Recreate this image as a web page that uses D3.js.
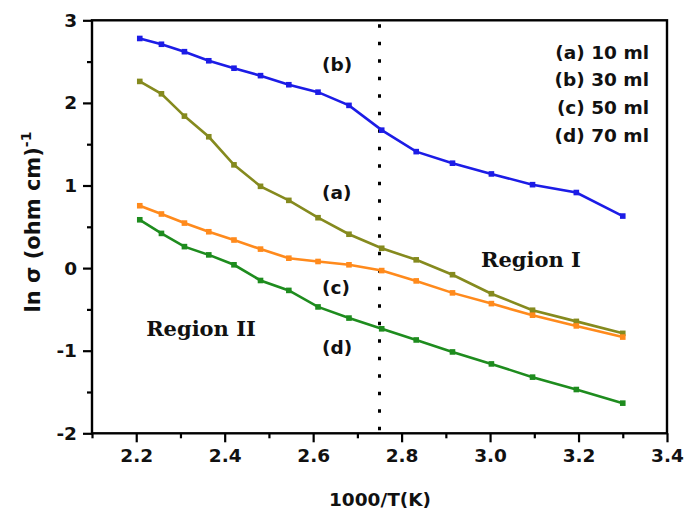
<!DOCTYPE html>
<html>
<head>
<meta charset="utf-8">
<script src="https://cdn.jsdelivr.net/npm/d3@7"></script>
<style>
  body { margin: 0; background: #fff; }
  text { font-family: "DejaVu Sans", sans-serif; font-weight: bold; }
</style>
</head>
<body>
<script>
// 1000/T values (T = 453 K ... 303 K)
const invT = [2.208, 2.257, 2.309, 2.364, 2.421, 2.481, 2.545, 2.611, 2.681, 2.755, 2.833, 2.915, 3.003, 3.096, 3.195, 3.300];

const seriesA = [2.26, 2.11, 1.84, 1.59, 1.25, 0.99, 0.82, 0.61, 0.41, 0.24, 0.10, -0.08, -0.31, -0.51, -0.645, -0.79];
const seriesB = [2.78, 2.71, 2.62, 2.51, 2.42, 2.33, 2.22, 2.13, 1.97, 1.67, 1.41, 1.27, 1.14, 1.01, 0.915, 0.63];
const seriesC = [0.755, 0.655, 0.545, 0.44, 0.34, 0.23, 0.12, 0.08, 0.04, -0.03, -0.155, -0.30, -0.43, -0.57, -0.70, -0.835];
const seriesD = [0.585, 0.42, 0.26, 0.16, 0.04, -0.15, -0.27, -0.47, -0.605, -0.735, -0.87, -1.015, -1.16, -1.32, -1.47, -1.635];

const seriesNames = ["(a)", "(b)", "(c)", "(d)"];
const seriesColors = ["#858a1e", "#1c1ce6", "#ff8a1c", "#1e8c1e"];
const legendLines = ["(a) 10 ml", "(b) 30 ml", "(c) 50 ml", "(d) 70 ml"];

const xTicks = [2.2, 2.4, 2.6, 2.8, 3.0, 3.2, 3.4];
const yTicks = [-2, -1, 0, 1, 2, 3];
const boundaryX = 2.75;

const w = 687, h = 514;
const mLeft = 92, mRight = 667, mTop = 20.3, mBottom = 433.3;

const svg = d3.select("body").append("svg")
  .attr("width", w)
  .attr("height", h);

const x = d3.scaleLinear().domain([2.1, 3.4]).range([mLeft, mRight]);
const y = d3.scaleLinear().domain([-2, 3]).range([mBottom, mTop]);

// minor ticks
svg.append("g")
  .attr("transform", `translate(0,${mBottom})`)
  .call(d3.axisBottom(x).tickValues(d3.range(2.1, 3.35, 0.2)).tickSize(5).tickFormat(""))
  .call(g => g.select(".domain").remove())
  .selectAll("line").attr("stroke-width", 2.2);
svg.append("g")
  .attr("transform", `translate(${mLeft},0)`)
  .call(d3.axisLeft(y).tickValues([-1.5, -0.5, 0.5, 1.5, 2.5]).tickSize(5).tickFormat(""))
  .call(g => g.select(".domain").remove())
  .selectAll("line").attr("stroke-width", 2.2);

// major ticks
const xAxis = svg.append("g")
  .attr("transform", `translate(0,${mBottom})`)
  .call(d3.axisBottom(x).tickValues(xTicks).tickSize(9).tickPadding(7).tickFormat(d => d.toFixed(1)));
xAxis.select(".domain").remove();
xAxis.selectAll("line").attr("stroke-width", 2.2);
xAxis.selectAll("text").attr("font-size", 18.5).attr("font-family", "DejaVu Sans").attr("font-weight", "bold").attr("fill", "#111");

const yAxis = svg.append("g")
  .attr("transform", `translate(${mLeft},0)`)
  .call(d3.axisLeft(y).tickValues(yTicks).tickSize(9).tickPadding(6).tickFormat(d => String(d)));
yAxis.select(".domain").remove();
yAxis.selectAll("line").attr("stroke-width", 2.2);
yAxis.selectAll("text").attr("font-size", 18.5).attr("font-family", "DejaVu Sans").attr("font-weight", "bold").attr("fill", "#111");

// frame
svg.append("rect")
  .attr("x", mLeft).attr("y", mTop)
  .attr("width", mRight - mLeft).attr("height", mBottom - mTop)
  .attr("fill", "none").attr("stroke", "#000").attr("stroke-width", 2.4);

// boundary line
svg.append("line")
  .attr("x1", x(boundaryX)).attr("x2", x(boundaryX))
  .attr("y1", mTop + 4).attr("y2", mBottom)
  .attr("stroke", "#000").attr("stroke-width", 3)
  .attr("stroke-dasharray", "3.5 14");

const allSeries = [seriesA, seriesB, seriesC, seriesD];
const line = d3.line().x((d, i) => x(invT[i])).y(d => y(d));

allSeries.forEach((s, k) => {
  svg.append("path")
    .datum(s)
    .attr("d", line)
    .attr("fill", "none")
    .attr("stroke", seriesColors[k])
    .attr("stroke-width", 2.6);
  svg.selectAll(null)
    .data(s)
    .join("rect")
    .attr("x", (d, i) => x(invT[i]) - 2.8)
    .attr("y", d => y(d) - 2.8)
    .attr("width", 5.6)
    .attr("height", 5.6)
    .attr("fill", seriesColors[k]);
});

// series labels
const labelPos = [[2.62, 0.84], [2.62, 2.39], [2.62, -0.31], [2.62, -1.04]];
svg.selectAll(".slabel")
  .data(seriesNames)
  .join("text")
  .attr("class", "slabel")
  .attr("x", (d, i) => x(labelPos[i][0]))
  .attr("y", (d, i) => y(labelPos[i][1]))
  .attr("font-size", 18.5)
  .attr("fill", "#111")
  .text(d => d);

// legend
svg.selectAll(".legend")
  .data(legendLines)
  .join("text")
  .attr("class", "legend")
  .attr("x", 649)
  .attr("y", (d, i) => 58.5 + i * 27.7)
  .attr("text-anchor", "end")
  .attr("font-size", 18.5)
  .attr("fill", "#111")
  .text(d => d);

// region labels
svg.append("text")
  .attr("x", 531).attr("y", 267)
  .attr("text-anchor", "middle")
  .style("font-family", "'DejaVu Serif', serif")
  .attr("font-size", 21)
  .attr("fill", "#111")
  .text("Region I");
svg.append("text")
  .attr("x", 201).attr("y", 336)
  .attr("text-anchor", "middle")
  .style("font-family", "'DejaVu Serif', serif")
  .attr("font-size", 21)
  .attr("fill", "#111")
  .text("Region II");

// axis titles
svg.append("text")
  .attr("x", 380).attr("y", 506)
  .attr("text-anchor", "middle")
  .attr("font-size", 18.5)
  .attr("fill", "#111")
  .text("1000/T(K)");

const yTitle = svg.append("text")
  .attr("transform", "translate(40,222) rotate(-90)")
  .attr("text-anchor", "middle")
  .attr("font-size", 21)
  .attr("fill", "#111");
yTitle.append("tspan").text("ln σ (ohm cm)");
yTitle.append("tspan").attr("dy", -9).attr("font-size", 14).text("-1");
</script>
</body>
</html>
